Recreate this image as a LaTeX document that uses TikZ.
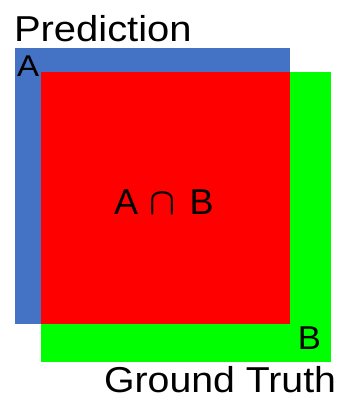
\documentclass[tikz,border=0pt]{standalone}
\usepackage{fontspec}
\setmainfont{Liberation Sans}
\definecolor{predblue}{HTML}{4472C4}
\definecolor{gtgreen}{HTML}{00FF00}
\definecolor{isred}{HTML}{FF0000}
\begin{document}
\begin{tikzpicture}[x=1pt,y=-1pt,
  lbl/.style={inner sep=0pt, outer sep=0pt, text=black}]
\useasboundingbox[fill=white] (0,0) rectangle (338,398);
% regions
\fill[predblue] (15,48) rectangle (290,324);
\fill[gtgreen] (41,72) rectangle (331,362);
\fill[isred] (41,72) rectangle (290,324);
% labels
\node[lbl, anchor=base west] (pred) at (14,42) {\fontsize{36}{40}\selectfont\scalebox{1.11}[1]{Prediction}};
\node[lbl, anchor=base west] (la) at (17,77) {\fontsize{30}{34}\selectfont\scalebox{1.1}[1]{A}};
\node[lbl, anchor=base east] (lb) at (321,349) {\fontsize{33}{36}\selectfont\scalebox{1.05}[1]{B}};
\node[lbl, anchor=base west] (inter) at (114,214) {\fontsize{36}{40}\selectfont A\hspace{0.33em}\scalebox{3.4}[3.8]{\normalsize\boldmath$\cap$}\hspace{0.38em}B};
\node[lbl, anchor=base east] (gt) at (336,392) {\fontsize{36}{40}\selectfont\scalebox{1.09}[1]{Ground Truth}};
\end{tikzpicture}
\end{document}
